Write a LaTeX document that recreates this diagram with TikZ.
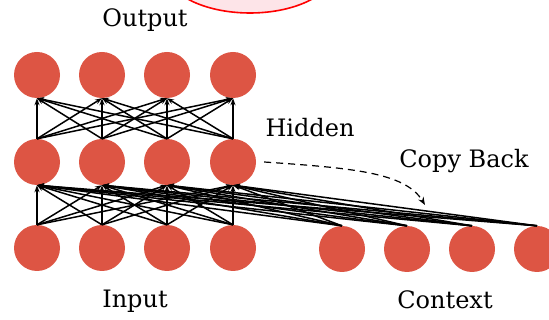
\documentclass[tikz,border=0pt]{standalone}
\usepackage{fontspec}
\setmainfont{DejaVu Serif}
\usetikzlibrary{arrows.meta}
\definecolor{unitred}{RGB}{221,85,68}
\definecolor{blobpink}{RGB}{253,228,232}
\tikzset{
  unit/.style={circle,fill=unitred,minimum size=46pt,inner sep=0pt},
  link/.style={-{Stealth[length=7pt,width=5pt]},line width=1.5pt},
  lbl/.style={font=\fontsize{24}{28}\selectfont}
}
\begin{document}
\begin{tikzpicture}[x=1pt,y=-1pt]
    \useasboundingbox (0,0) rectangle (549,320);
    \clip (0,0) rectangle (549,320);
    \draw[red,fill=blobpink,line width=1.6pt] (250,-32) ellipse (86 and 45);
    \foreach \i/\x in {1/37,2/102,3/167,4/233}{
        \node[unit] (out\i) at (\x,75) {};
        \node[unit] (hid\i) at (\x,162) {};
        \node[unit] (in\i) at (\x,248) {};
    }
    \foreach \i/\x in {1/342,2/407,3/472,4/537}
        \node[unit] (ctx\i) at (\x,249) {};
    \foreach \a in {1,...,4}
        \foreach \b in {1,...,4}{
            \draw[link] (hid\a.north) -- (out\b.south);
            \draw[link] (in\a.north) -- (hid\b.south);
            \draw[link] (ctx\a.north) -- (hid\b.south);
        }
    \node[lbl] (outlbl) at (145,20) {Output};
    \node[lbl] (hidlbl) at (310,128) {Hidden};
    \node[lbl] (cblbl) at (464,161) {Copy Back};
    \node[lbl] (inlbl) at (135,301) {Input};
    \node[lbl] (ctxlbl) at (445,300) {Context};
    \coordinate (cbend) at (425,205);
    \draw[dash pattern=on 7pt off 5pt,-{Stealth[length=8pt,width=6pt]},line width=1.2pt] (hid4.east) ++(8,0) .. controls (350,168) and (405,172) .. (cbend);
\end{tikzpicture}
\end{document}
